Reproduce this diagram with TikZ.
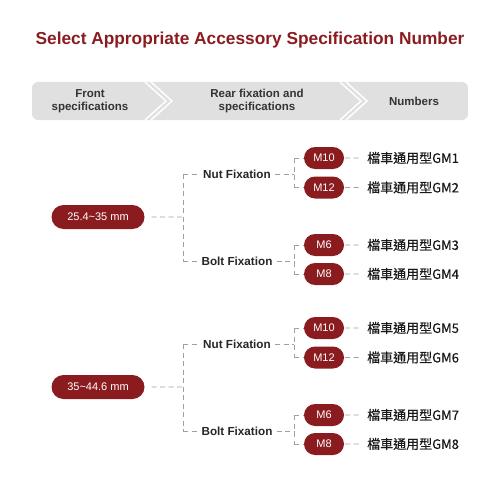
\documentclass[tikz,border=0pt]{standalone}
\usepackage{fontspec}
\setmainfont{Liberation Sans}
\newfontfamily\cjk[FakeBold=0.4]{Noto Sans CJK TC}
\usetikzlibrary{shapes.misc}
\definecolor{brand}{RGB}{138,28,32}
\definecolor{band}{RGB}{224,224,224}
\definecolor{linegray}{RGB}{160,160,160}
\tikzset{
  pill/.style={rounded rectangle, fill=brand, text=white, minimum height=22pt, minimum width=40pt, inner sep=0pt, font=\fontsize{11}{13}\selectfont},
  bigpill/.style={pill, minimum height=24pt, minimum width=93pt},
  fix/.style={font=\bfseries\fontsize{11.7}{13}\selectfont, text=black!85, inner sep=1pt},
  num/.style={font=\cjk\fontsize{13}{15}\selectfont, text=black!90, anchor=west, inner sep=0pt},
  hdr/.style={font=\bfseries\fontsize{11.5}{13.5}\selectfont, text=black!80, align=center},
  conn/.style={draw=linegray, line width=0.6pt, dash pattern=on 5pt off 3.5pt},
  chev/.style={draw=white, line width=1.4pt}
}
\begin{document}
\begin{tikzpicture}[x=1pt,y=-1pt]
\useasboundingbox (0,0) rectangle (500,500);
\node[font=\bfseries\fontsize{17.3}{20}\selectfont, text=brand] (title) at (250,40) {Select Appropriate Accessory Specification Number};
% header band
\fill[band, rounded corners=6pt] (32,82) rectangle (468,120);
\draw[chev] (145,82) -- (166,101) -- (145,120);
\draw[chev] (151,82) -- (172,101) -- (151,120);
\draw[chev] (340,82) -- (361,101) -- (340,120);
\draw[chev] (346,82) -- (367,101) -- (346,120);
\node[hdr] (h1) at (90,101) {Front\\specifications};
\node[hdr] (h2) at (257,101) {Rear fixation and\\specifications};
\node[hdr] (h3) at (414,101) {Numbers};
\foreach \g/\dy/\lab/\na/\nb/\nc/\nd in {1/0/25.4\textasciitilde35 mm/1/2/3/4, 2/170/35\textasciitilde44.6 mm/5/6/7/8}{
  \node[bigpill] (p\g) at (98,217+\dy) {\lab};
  \node[fix] (nut\g) at (237,174+\dy) {Nut Fixation};
  \node[fix] (bolt\g) at (237,261+\dy) {Bolt Fixation};
  \node[pill] (ma\g) at (324,158+\dy) {M10};
  \node[pill] (mb\g) at (324,187.5+\dy) {M12};
  \node[pill] (mc\g) at (324,245+\dy) {M6};
  \node[pill] (md\g) at (324,274+\dy) {M8};
  \node[num] (ta\g) at (367,158+\dy) {檔車通用型GM\na};
  \node[num] (tb\g) at (367,187.5+\dy) {檔車通用型GM\nb};
  \node[num] (tc\g) at (367,245+\dy) {檔車通用型GM\nc};
  \node[num] (td\g) at (367,274+\dy) {檔車通用型GM\nd};
  \coordinate (j\g) at (183,217+\dy);
  \coordinate (k\g) at (294,174+\dy);
  \coordinate (l\g) at (294,261+\dy);
  % first level
  \draw[conn, shorten <=7pt] (p\g) -- (j\g);
  \draw[conn] (j\g |- nut\g) -- (j\g |- bolt\g);
  \draw[conn, shorten >=2pt] (j\g |- nut\g) -- (nut\g);
  \draw[conn, shorten >=2pt] (j\g |- bolt\g) -- (bolt\g);
  % second level
  \draw[conn, shorten <=3pt] (nut\g) -- (k\g);
  \draw[conn, shorten <=3pt] (bolt\g) -- (l\g);
  \draw[conn] (k\g |- ma\g) -- (k\g |- mb\g);
  \draw[conn] (l\g |- mc\g) -- (l\g |- md\g);
  \draw[conn] (k\g |- ma\g) -- (ma\g);
  \draw[conn] (k\g |- mb\g) -- (mb\g);
  \draw[conn] (l\g |- mc\g) -- (mc\g);
  \draw[conn] (l\g |- md\g) -- (md\g);
  % to numbers
  \draw[conn, shorten <=1pt, shorten >=5pt] (ma\g) -- (ta\g);
  \draw[conn, shorten <=1pt, shorten >=5pt] (mb\g) -- (tb\g);
  \draw[conn, shorten <=1pt, shorten >=5pt] (mc\g) -- (tc\g);
  \draw[conn, shorten <=1pt, shorten >=5pt] (md\g) -- (td\g);
}
\end{tikzpicture}
\end{document}
